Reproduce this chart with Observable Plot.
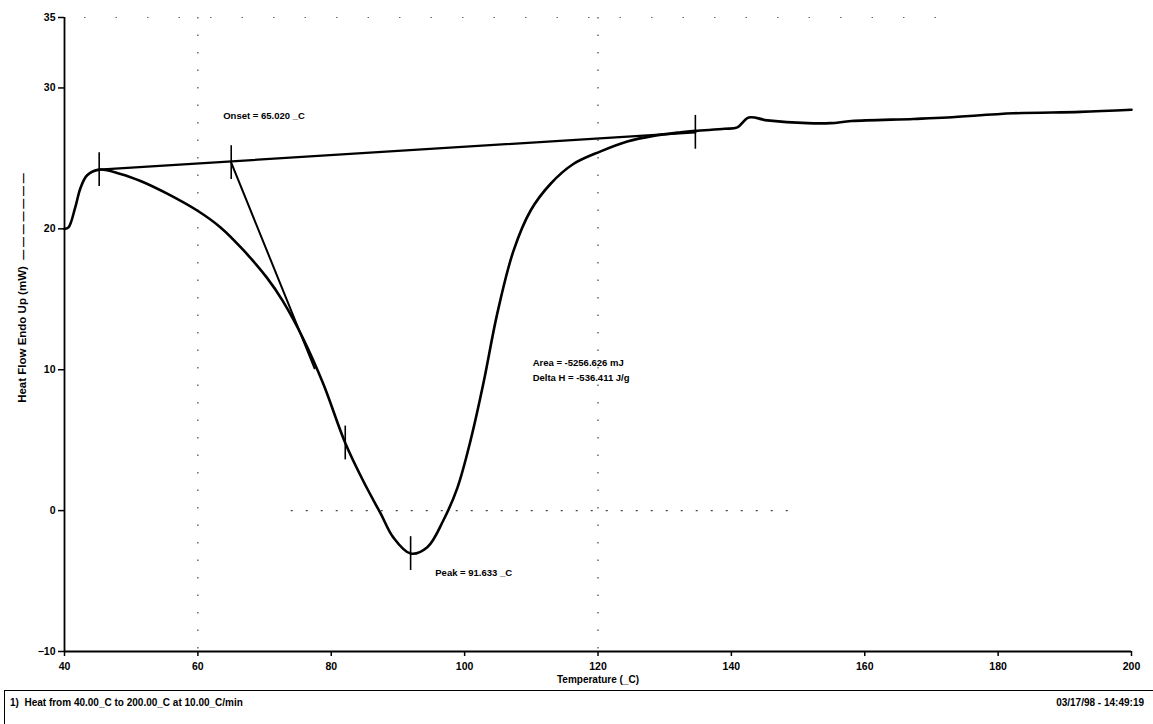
<!DOCTYPE html>
<html>
<head>
<meta charset="utf-8">
<script src="https://cdn.jsdelivr.net/npm/d3@7"></script>
<script src="https://cdn.jsdelivr.net/npm/@observablehq/plot@0.6"></script>
<style>
  html, body { margin: 0; padding: 0; background: #fff; }
  body { width: 1153px; height: 724px; position: relative; overflow: hidden; font-family: "Liberation Sans", Arial, sans-serif; }
  #chart { position: absolute; left: 0; top: 0; }
  #caption { position: absolute; left: 4px; top: 690px; width: 1149px; height: 40px; border-top: 1.5px solid #000; border-left: 1.5px solid #000; font-weight: bold; font-size: 10px; color: #000; }
  #caption .l { position: absolute; left: 5px; top: 6px; }
  #caption .r { position: absolute; right: 10px; top: 6px; }
</style>
</head>
<body>
<div id="chart"></div>
<div id="caption"><span class="l">1)&nbsp; Heat from 40.00_C to 200.00_C at 10.00_C/min</span><span class="r">03/17/98 - 14:49:19</span></div>
<script>
// Heat flow curve (temperature °C, heat flow mW)
const temperature = [40.0, 40.6, 41.6, 42.4, 43.4, 45.2, 48.4, 51.4, 55.4, 59.9, 63.4, 66.8, 70.4, 72.7, 75.8, 78.8, 82.1, 84.8, 87.4, 89.3, 91.9, 94.4, 96.8, 98.9, 100.9, 102.8, 104.9, 107.3, 109.9, 112.9, 116.3, 120.4, 124.4, 128.3, 132.4, 134.6, 139.0, 140.9, 142.6, 145.4, 151.4, 154.9, 158.0, 167.3, 172.4, 182.3, 192.3, 200.0];
const heatFlow    = [20.0, 20.1, 21.5, 22.9, 23.8, 24.2, 23.9, 23.4, 22.5, 21.3, 20.1, 18.5, 16.5, 14.9, 12.2, 9.0, 4.8, 2.1, -0.2, -1.9, -3.05, -2.6, -0.7, 1.6, 5.0, 9.0, 14.0, 18.4, 21.3, 23.2, 24.6, 25.5, 26.2, 26.6, 26.85, 26.95, 27.1, 27.2, 27.9, 27.7, 27.5, 27.5, 27.65, 27.8, 27.9, 28.2, 28.3, 28.45];

// Integration baseline
const baselineT = [45.2, 134.6];
const baselineV = [24.2, 26.85];

// Onset tangent
const tangentT = [65.0, 77.5];
const tangentV = [24.7, 10.1];

// Vertical marker ticks (limits, onset, partial, peak)
const markerT = [45.2, 65.0, 82.1, 91.9, 134.6];
const markerV = [24.2, 24.7, 4.8, -3.05, 26.85];

// Annotations
const annoText = ["Onset = 65.020 _C", "Area = -5256.626 mJ", "Delta H = -536.411 J/g", "Peak = 91.633 _C"];
const annoT = [63.8, 110.2, 110.2, 95.6];
const annoV = [28.0, 10.5, 9.45, -4.45];

// Axis ticks
const xTicks = [40, 60, 80, 100, 120, 140, 160, 180, 200];
const yTicks = [35, 30, 20, 10, 0, -10];
const gridX = [60, 120];

const curve = temperature.map((t, i) => ({t, v: heatFlow[i]}));
const baseline = baselineT.map((t, i) => ({t, v: baselineV[i]}));
const tangent = tangentT.map((t, i) => ({t, v: tangentV[i]}));
const markers = markerT.map((t, i) => ({t, v: markerV[i]}));
const annos = annoText.map((s, i) => ({s, t: annoT[i], v: annoV[i]}));

const plot = Plot.plot({
  width: 1153,
  height: 688,
  marginLeft: 64,
  marginRight: 22,
  marginTop: 17,
  marginBottom: 37,
  style: {fontFamily: "Liberation Sans, Arial, sans-serif", fontWeight: "bold", fontSize: "10px", color: "#000", background: "#fff"},
  x: {domain: [40, 200]},
  y: {domain: [-10, 35]},
  marks: [
    // faint dotted grid remnants
    Plot.ruleX(gridX, {stroke: "#444", strokeWidth: 1.2, strokeDasharray: "1.5,16"}),
    Plot.ruleY([{v: 0, a: 74, b: 150}], {y: "v", x1: "a", x2: "b", stroke: "#444", strokeWidth: 1.2, strokeDasharray: "2,13"}),
    Plot.ruleY([{v: 35, a: 43, b: 175}], {y: "v", x1: "a", x2: "b", stroke: "#666", strokeWidth: 1, strokeDasharray: "1.5,30"}),
    // axes
    Plot.ruleX([40], {stroke: "#000", strokeWidth: 1.8}),
    Plot.ruleY([-10], {stroke: "#000", strokeWidth: 1.8}),
    Plot.axisY({ticks: yTicks, tickSize: 6, tickPadding: 3, label: null, fontWeight: "bold", fontSize: 10.5, strokeWidth: 1.5}),
    Plot.axisX({ticks: xTicks, tickSize: 5, tickPadding: 6, label: null, fontWeight: "bold", fontSize: 10.5, strokeWidth: 1.5}),
    Plot.text(["Temperature (_C)"], {frameAnchor: "bottom", dy: 31, fontWeight: "bold", fontSize: 10}),
    Plot.text(["Heat Flow Endo Up (mW)"], {frameAnchor: "left", textAnchor: "middle", rotate: -90, dx: -42, fontWeight: "bold", fontSize: 11.5}),
    Plot.text(["— — — — — — —"], {frameAnchor: "left", textAnchor: "middle", rotate: -90, dx: -41, dy: -118, fontWeight: "bold", fontSize: 10}),
    // analysis lines
    Plot.line(baseline, {x: "t", y: "v", stroke: "#000", strokeWidth: 2.2}),
    Plot.line(tangent, {x: "t", y: "v", stroke: "#000", strokeWidth: 2}),
    Plot.ruleX(markers, {x: "t", y1: d => d.v - 1.2, y2: d => d.v + 1.2, stroke: "#000", strokeWidth: 1.6}),
    // heat flow curve
    Plot.line(curve, {x: "t", y: "v", stroke: "#000", strokeWidth: 2.6, curve: "catmull-rom"}),
    // annotations
    Plot.text(annos, {x: "t", y: "v", text: "s", textAnchor: "start", fontWeight: "bold", fontSize: 9.5, fill: "#000"})
  ]
});
document.getElementById("chart").appendChild(plot);
</script>
</body>
</html>
